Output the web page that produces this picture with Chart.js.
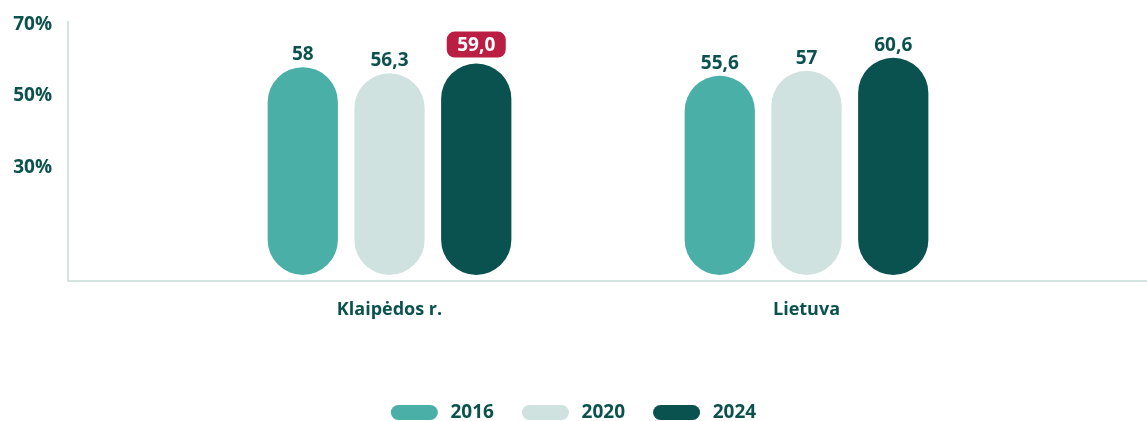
<!DOCTYPE html>
<html lang="lt">
<head>
<meta charset="utf-8">
<title>Klaipėdos r. / Lietuva</title>
<script src="https://cdn.jsdelivr.net/npm/chart.js@4/dist/chart.umd.min.js"></script>
<style>
  html, body { margin: 0; padding: 0; background: #fff; }
  #wrap { width: 1147px; height: 421px; position: relative; }
</style>
</head>
<body>
<div id="wrap"><canvas id="chart"></canvas></div>
<script>
// duomenys – skaitomi nuo paveikslėlio
const categories = ['Klaipėdos r.', 'Lietuva'];
const years = ['2016', '2020', '2024'];
const values2016 = [58, 55.6];
const values2020 = [56.3, 57];
const values2024 = [59.0, 60.6];
const labels2016 = ['58', '55,6'];
const labels2020 = ['56,3', '57'];
const labels2024 = ['59,0', '60,6'];
const highlight2024 = [true, false]; // raudonas ženkliukas virš reikšmės
const yTicks = [30, 50, 70];

const TEXT = '#0b524e';
const AXIS = '#d3e3e0';
const RED = '#bb1e43';
const FONT = '"Open Sans", "DejaVu Sans", sans-serif';

const series = [
  { label: years[0], values: values2016, texts: labels2016, marks: [false, false], color: '#49afa7' },
  { label: years[1], values: values2020, texts: labels2020, marks: [false, false], color: '#cfe2df' },
  { label: years[2], values: values2024, texts: labels2024, marks: highlight2024, color: '#09524f' }
];

// reikšmės virš stulpelių (be papildomų įskiepių)
const valueLabels = {
  id: 'valueLabels',
  afterDatasetsDraw(chart) {
    const ctx = chart.ctx;
    ctx.save();
    ctx.font = `700 19px ${FONT}`;
    ctx.textAlign = 'center';
    chart.data.datasets.forEach((ds, i) => {
      const s = series[i];
      chart.getDatasetMeta(i).data.forEach((bar, j) => {
        if (s.marks[j]) {
          const w = 59, h = 26, bottom = bar.y - 6;
          ctx.fillStyle = RED;
          ctx.beginPath();
          ctx.roundRect(bar.x - w / 2, bottom - h, w, h, 8);
          ctx.fill();
          ctx.fillStyle = '#fff';
          ctx.textBaseline = 'middle';
          ctx.fillText(s.texts[j], bar.x, bottom - h / 2 + 1);
        } else {
          ctx.fillStyle = TEXT;
          ctx.textBaseline = 'alphabetic';
          ctx.fillText(s.texts[j], bar.x, bar.y - 7);
        }
      });
    });
    ctx.restore();
  }
};

new Chart(document.getElementById('chart'), {
  type: 'bar',
  data: {
    datasets: series.map(s => ({
      label: s.label,
      data: s.values.map((v, i) => ({ x: i, y: v })),
      backgroundColor: s.color,
      borderRadius: 40,
      borderSkipped: false,
      categoryPercentage: 0.624,
      barPercentage: 0.81
    }))
  },
  options: {
    responsive: true,
    maintainAspectRatio: false,
    animation: false,
    // legenda nuleidžiama žemiau, kad sutaptų su originalu
    layout: { padding: { top: 22, right: 0, left: 0, bottom: -11 } },
    plugins: {
      tooltip: { enabled: false },
      legend: {
        position: 'bottom',
        labels: {
          color: TEXT,
          font: { family: FONT, size: 19, weight: '700' },
          boxWidth: 47,
          boxHeight: 15,
          useBorderRadius: true,
          borderRadius: 7.5,
          padding: 28,
          // plonas tarpas – didesnis atstumas tarp žymės ir metų
          generateLabels: chart => Chart.defaults.plugins.legend.labels.generateLabels(chart)
            .map(l => ({ ...l, text: '\u2009' + l.text }))
        }
      }
    },
    scales: {
      x: {
        type: 'linear',
        offset: false,
        min: -0.771,
        max: 1.8165,
        grid: { display: false, drawTicks: false },
        border: { display: true, color: AXIS, width: 2 },
        afterBuildTicks: scale => { scale.ticks = categories.map((_, i) => ({ value: i })); },
        afterFit: scale => { scale.height = 94; },
        ticks: {
          padding: 18,
          color: TEXT,
          font: { family: FONT, size: 18, weight: '700' },
          callback: v => categories[v]
        }
      },
      y: {
        min: -1.7,
        max: 70.6,
        grid: { display: false, drawTicks: false },
        border: { display: true, color: AXIS, width: 2 },
        afterBuildTicks: scale => { scale.ticks = yTicks.map(v => ({ value: v })); },
        afterFit: scale => { scale.width = 68; scale.paddingTop = 0; scale.paddingBottom = 0; },
        ticks: {
          padding: 16,
          color: TEXT,
          font: { family: FONT, size: 19, weight: '700' },
          callback: v => v + '%'
        }
      }
    }
  },
  plugins: [valueLabels]
});
</script>
</body>
</html>
